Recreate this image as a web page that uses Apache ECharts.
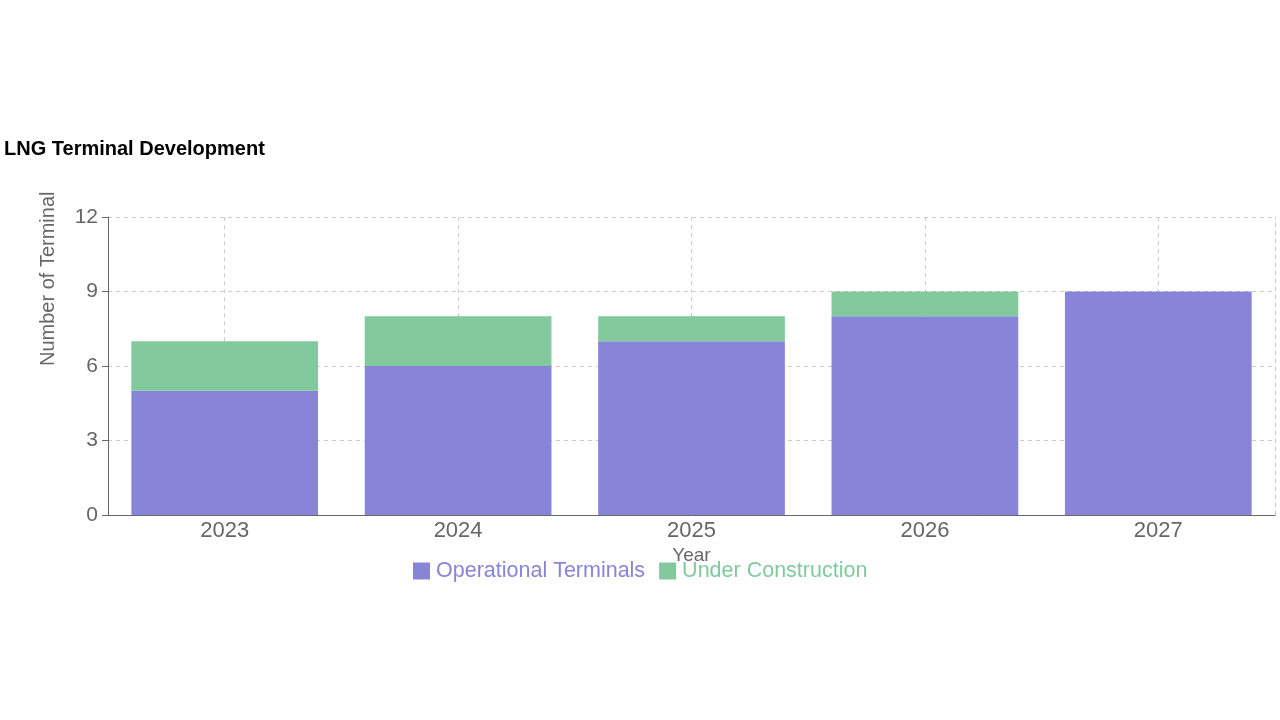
<!DOCTYPE html>
<html>
<head>
<meta charset="utf-8">
<script src="https://cdn.jsdelivr.net/npm/echarts@6/dist/echarts.min.js"></script>
<style>
  html, body { margin: 0; padding: 0; background: #fff; }
  #main { width: 1280px; height: 720px; }
</style>
</head>
<body>
<div id="main"></div>
<script>
var years = ['2023', '2024', '2025', '2026', '2027'];
var operational = [5, 6, 7, 8, 9];
var underConstruction = [2, 2, 1, 1, 0];
var yTicks = { min: 0, max: 12, interval: 3 };

var chartDom = document.getElementById('main');
var myChart = echarts.init(chartDom);
var font = 'Liberation Sans, Arial, Helvetica, sans-serif';

var option = {
  animation: false,
  textStyle: { fontFamily: font },
  title: {
    text: 'LNG Terminal Development',
    left: -1,
    top: 134,
    textStyle: { fontSize: 20, fontWeight: 'bold', color: '#000', fontFamily: font }
  },
  legend: {
    left: 408,
    top: 555,
    itemWidth: 17,
    itemHeight: 17,
    itemGap: 14,
    icon: 'rect',
    textStyle: { fontSize: 21.5, fontFamily: font, padding: [0, 0, 0, 1] },
    data: [
      { name: 'Operational Terminals', textStyle: { color: '#8884d8' } },
      { name: 'Under Construction', textStyle: { color: '#82ca9d' } }
    ]
  },
  grid: { left: 108, right: 5, top: 217, bottom: 205 },
  xAxis: {
    type: 'category',
    data: years,
    name: 'Year',
    nameLocation: 'middle',
    nameGap: 31,
    nameTextStyle: { fontSize: 19, color: '#666' },
    axisLine: { lineStyle: { color: '#666' } },
    axisTick: { alignWithLabel: true, length: 6, lineStyle: { color: '#666' } },
    axisLabel: { fontSize: 22, color: '#666', margin: 5 },
    splitLine: { show: true, alignWithLabel: true, lineStyle: { type: [4, 4], color: '#ccc' } }
  },
  yAxis: [
    {
      type: 'value',
      min: yTicks.min,
      max: yTicks.max,
      interval: yTicks.interval,
      name: 'Number of Terminal',
      nameLocation: 'middle',
      nameGap: 50,
      nameRotate: 90,
      nameTextStyle: { fontSize: 20, color: '#666', align: 'left' },
      axisLine: { show: true, lineStyle: { color: '#666' } },
      axisTick: { show: true, length: 6, lineStyle: { color: '#666' } },
      axisLabel: { fontSize: 21, color: '#666', margin: 10 },
      splitLine: { show: true, lineStyle: { type: [4, 4], color: '#ccc' } }
    },
    {
      type: 'value',
      position: 'right',
      min: yTicks.min,
      max: yTicks.max,
      interval: yTicks.interval,
      axisLine: { show: true, lineStyle: { type: [4, 4], color: '#ccc' } },
      axisTick: { show: false },
      axisLabel: { show: false },
      splitLine: { show: false }
    }
  ],
  series: [
    {
      name: 'Operational Terminals',
      type: 'bar',
      stack: 'total',
      barCategoryGap: '20%',
      itemStyle: { color: '#8884d8' },
      data: operational
    },
    {
      name: 'Under Construction',
      type: 'bar',
      stack: 'total',
      barCategoryGap: '20%',
      itemStyle: { color: '#82ca9d' },
      data: underConstruction
    }
  ]
};

myChart.setOption(option);
</script>
</body>
</html>
